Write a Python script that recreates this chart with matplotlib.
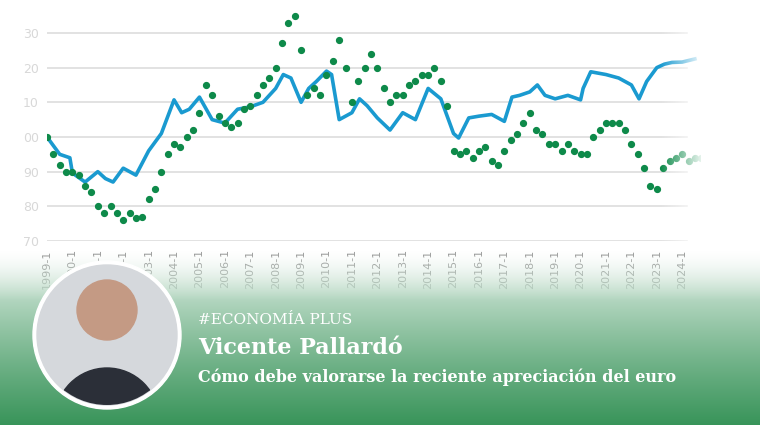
import numpy as np
import matplotlib
matplotlib.use("Agg")
import matplotlib.pyplot as plt
from matplotlib.patches import Circle

years = np.arange(1999, 2025)
blue_t = [1999.0,1999.5,1999.9,2000.0,2000.5,2001.0,2001.3,2001.6,2002.0,2002.5,2003.0,2003.5,2004.0,2004.3,2004.6,
          2005.0,2005.5,2006.0,2006.5,2007.0,2007.5,2008.0,2008.3,2008.6,2009.0,2009.3,2009.6,2010.0,2010.2,2010.5,
          2011.0,2011.3,2011.6,2012.0,2012.5,2013.0,2013.5,2014.0,2014.5,2015.0,2015.2,2015.6,2016.0,2016.5,2017.0,
          2017.3,2017.6,2018.0,2018.3,2018.6,2019.0,2019.5,2020.0,2020.1,2020.4,2021.0,2021.5,2022.0,2022.3,2022.6,
          2023.0,2023.3,2023.6,2024.0,2024.5]
blue_v = [100,95,94,89.6,87,90,88,87,91,89,96,101,110.7,107,108,
          111.5,105,104,108,108.7,110,114,118,117,110,114,116,119,118,105,
          107,111,109,105.5,102,107,105,114,111,101,99.7,105.5,106,106.5,104.5,
          111.5,112,113,115,112,111,112,110.7,114,118.8,118,117,115,111,116,
          120,121,121.5,121.6,122.5]
green_v = [100,95,92,90, 90,89,86,84, 80,78,80,78, 76,78,76.5,77, 82,85,90,95,
           98,97,100,102, 107,115,112,106, 104,103,104,108, 109,112,115,117,
           120,127,133,135, 125,112,114,112, 118,122,128,120, 110,116,120,124,
           120,114,110,112, 112,115,116,118, 118,120,116,109, 96,95,96,94,
           96,97,93,92, 96,99,101,104, 107,102,101,98, 98,96,98,96,
           95,95,100,102, 104,104,104,102, 98,95,91,86, 85,91,93,94, 95,93,94,94]
green_t = 1999 + np.arange(len(green_v)) * 0.25
ytick_vals = [70, 80, 90, 100, 110, 120, 130]
ytick_labels = ["70", "80", "90", "00", "10", "20", "30"]
xtick_labels = [f"{y}-1" for y in years]

W, H = 760, 425
fig = plt.figure(figsize=(7.6, 4.25), dpi=100)
fig.patch.set_facecolor("white")
ax = fig.add_axes([47/W, (H-241)/H, (700-47)/W, 241/H])
ax.set_xlim(1999, 2024.7)
ax.set_ylim(70, 139.5)
for v in ytick_vals:
    ax.plot([1999, 2024.2], [v, v], color="#dddddd", lw=1.2, zorder=1)
ax.plot(blue_t, blue_v, color="#1a9ad0", lw=2.6, zorder=3)
ax.plot(green_t, green_v, ls="none", marker="o", ms=4.2, color="#0e8a4a", zorder=4)
ax.set_yticks(ytick_vals)
ax.set_yticklabels(ytick_labels, color="#d8d8d8", fontsize=9)
ax.set_xticks(years)
ax.set_xticklabels(xtick_labels, rotation=90, color="#8a8a8a", fontsize=8)
ax.tick_params(length=0, pad=6)
for s in ax.spines.values():
    s.set_visible(False)

# overlay: fades
ov = fig.add_axes([0, 0, 1, 1], zorder=5)
ov.set_xlim(0, W); ov.set_ylim(H, 0); ov.axis("off")
img = np.ones((H, W, 4))
yy = np.arange(H)[:, None] * np.ones((1, W))
xx = np.ones((H, 1)) * np.arange(W)[None, :]
g = np.clip((yy - 250) / 175.0, 0, 1) ** 0.75
green = np.array([0.22, 0.58, 0.35])
col = (1 - g)[..., None] * np.ones(3) + g[..., None] * green
a_green = np.clip((yy - 245) / 55.0, 0, 1)
a_white = np.clip((xx - 660) / 45.0, 0, 1) * (yy < 250)
alpha = np.maximum(a_green, a_white)
img[..., :3] = col
img[..., :3][yy < 250] = 1.0
img[..., 3] = alpha
ov.imshow(img, extent=(0, W, H, 0), aspect="auto")

ov.add_patch(Circle((107, 335), 74, color="white", zorder=6))
clip = Circle((107, 335), 70, transform=ov.transData)
ov.add_patch(Circle((107, 335), 70, color="#d5d8dc", zorder=7))
p1 = Circle((107, 310), 30, color="#c49a84", zorder=8); ov.add_patch(p1); p1.set_clip_path(clip)
p2 = Circle((107, 420), 52, color="#2b2f38", zorder=8); ov.add_patch(p2); p2.set_clip_path(clip)

serif = ["DejaVu Serif"]
ov.text(198, 320, "#ECONOMÍA PLUS", color="white", fontsize=11, family=serif, va="center", zorder=9)
ov.text(198, 348, "Vicente Pallardó", color="white", fontsize=16, family=serif, weight="bold", va="center", zorder=9)
ov.text(198, 377, "Cómo debe valorarse la reciente apreciación del euro", color="white", fontsize=11.5,
        family=serif, weight="bold", va="center", zorder=9)

fig.savefig("out.png", dpi=100)
